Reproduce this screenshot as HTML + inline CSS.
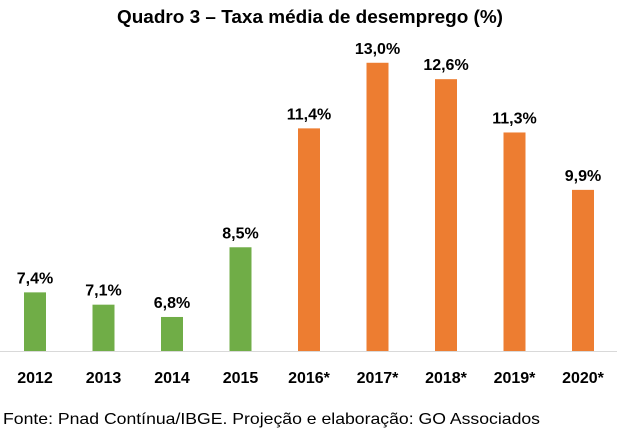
<!DOCTYPE html>
<html><head><meta charset="utf-8"><style>
body{margin:0;background:#fff;width:621px;height:436px;overflow:hidden;font-family:"Liberation Sans",sans-serif}
</style></head><body>
<svg id="c" width="621" height="436">
<text x="117" y="23" textLength="386" lengthAdjust="spacingAndGlyphs" font-size="18" font-weight="bold" fill="#000">Quadro 3 – Taxa média de desemprego (%)</text>
<line x1="0" y1="351.5" x2="617" y2="351.5" stroke="#d9d9d9" stroke-width="1"/>
<text x="3" y="424" textLength="537" lengthAdjust="spacingAndGlyphs" font-size="16" fill="#000">Fonte: Pnad Contínua/IBGE. Projeção e elaboração: GO Associados</text>
</svg>
<script>
const years=["2012","2013","2014","2015","2016*","2017*","2018*","2019*","2020*"];
const values=[7.4,7.1,6.8,8.5,11.4,13.0,12.6,11.3,9.9];
const projected=[false,false,false,false,true,true,true,true,true];
const svg=document.getElementById('c');const NS="http://www.w3.org/2000/svg";
const base=351,vmin=5.97,scale=41;
function y(v){return base-(v-vmin)*scale;}
function x(i){return 35+i*68.5;}
values.forEach((v,i)=>{
 const r=document.createElementNS(NS,'rect');
 r.setAttribute('x',x(i)-11);r.setAttribute('y',y(v));r.setAttribute('width',22);r.setAttribute('height',base-y(v));
 r.setAttribute('fill',projected[i]?'#ED7D31':'#70AD47');
 
 
 svg.appendChild(r);
 const t=document.createElementNS(NS,'text');
 t.setAttribute('x',x(i));t.setAttribute('y',y(v)-9);t.setAttribute('text-anchor','middle');
 t.setAttribute('font-size','16');t.setAttribute('font-weight','bold');
 t.textContent=v.toFixed(1).replace('.',',')+'%';
 
 
 svg.appendChild(t);
 const l=document.createElementNS(NS,'text');
 l.setAttribute('x',x(i));l.setAttribute('y',383);l.setAttribute('text-anchor','middle');
 l.setAttribute('font-size','16');l.setAttribute('font-weight','bold');
 l.textContent=years[i];
 
 
 svg.appendChild(l);
});
</script>
</body></html>
